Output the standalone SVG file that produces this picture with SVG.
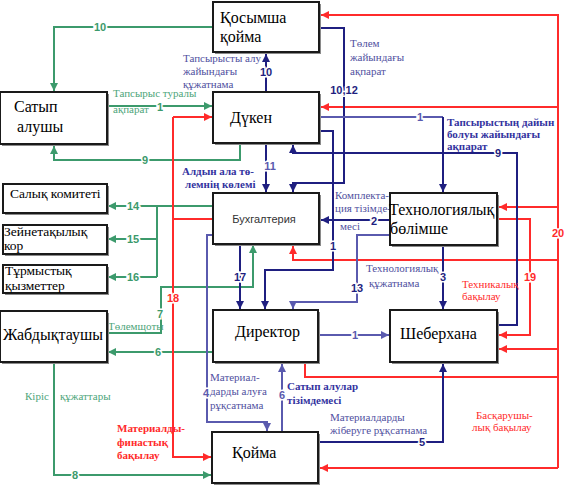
<svg xmlns="http://www.w3.org/2000/svg" width="567" height="489" viewBox="0 0 567 489">
<style>
.box{fill:#fff;stroke:#1a1a1a;stroke-width:2}
.sh{fill:#8a8a8a}
.bt{font-family:"Liberation Serif",serif;font-size:16px;fill:#000}
.st{font-family:"Liberation Serif",serif;font-size:13.5px;fill:#000}
.g{fill:none;stroke:#3c9a6c;stroke-width:2}
.r{fill:none;stroke:#ff2b2b;stroke-width:2}
.n{fill:none;stroke:#1f1f80;stroke-width:2}
.s{fill:none;stroke:#5a5aae;stroke-width:2}
.ga{marker-end:url(#ag)}
.ra{marker-end:url(#ar)}
.na{marker-end:url(#an)}
.sa{marker-end:url(#as)}
.num{font-family:"Liberation Sans",sans-serif;font-size:11px;font-weight:bold;paint-order:stroke;stroke:#fff;stroke-width:3px;text-anchor:middle;dominant-baseline:central}
.ng{fill:#3c9a6c}
.nr{fill:#ff2b2b}
.nn{fill:#1f1f80}
.ns{fill:#5a5aae}
.ann{font-family:"Liberation Serif",serif;font-size:11px}
.as{fill:#5050a0}
.ab{fill:#3333a0;font-weight:bold}
.ag2{fill:#4ea57a}
.ar2{fill:#ff2b2b}
</style>
<defs>
<marker id="ag" viewBox="0 0 8 8" refX="8" refY="4" markerWidth="8" markerHeight="8" orient="auto" markerUnits="userSpaceOnUse"><path d="M0,0L8,4L0,8z" fill="#3c9a6c"/></marker>
<marker id="ar" viewBox="0 0 8 8" refX="8" refY="4" markerWidth="8" markerHeight="8" orient="auto" markerUnits="userSpaceOnUse"><path d="M0,0L8,4L0,8z" fill="#ff2b2b"/></marker>
<marker id="an" viewBox="0 0 8 8" refX="8" refY="4" markerWidth="8" markerHeight="8" orient="auto" markerUnits="userSpaceOnUse"><path d="M0,0L8,4L0,8z" fill="#1f1f80"/></marker>
<marker id="as" viewBox="0 0 8 8" refX="8" refY="4" markerWidth="8" markerHeight="8" orient="auto" markerUnits="userSpaceOnUse"><path d="M0,0L8,4L0,8z" fill="#5a5aae"/></marker>
</defs>
<rect width="567" height="489" fill="#fff"/>

<g id="connectors">
<!-- green -->
<path class="g ga" d="M213,27H54V91"/>
<path class="g ga" d="M107,106H212"/>
<path class="g ga" d="M240,144V160H54V146"/>
<path class="g ga" d="M213,206H108"/>
<path class="g" d="M157,206V277"/>
<path class="g ga" d="M157,239H108"/>
<path class="g ga" d="M157,277H108"/>
<path class="g ga" d="M107,333H161V287H253V245"/>
<path class="g ga" d="M213,352H108"/>
<path class="g ga" d="M54,363V475H211"/>
<!-- red -->
<path class="r ra" d="M558,468V15H321"/>
<path class="r ra" d="M558,107H321"/>
<path class="r ra" d="M558,207H499"/>
<path class="r ra" d="M558,349H499"/>
<path class="r ra" d="M558,468H320"/>
<path class="r ra" d="M558,260H293V246"/>
<path class="r" d="M305,363V377H558"/>
<path class="r ra" d="M498,219H530V335H499"/>
<path class="r ra" d="M173,117H212"/>
<path class="r ra" d="M173,117V457H211"/>
<path class="r" d="M173,219H213"/>
<!-- blue -->
<path class="n na" d="M266,92V54"/>
<path class="n na" d="M320,28H344V183H293V192"/>
<path class="n na" d="M498,325H517V153H293V145"/>
<path class="n na" d="M266,144V192"/>
<path class="s" d="M320,117H443"/>
<path class="n na" d="M443,117V192"/>
<path class="n na" d="M320,131H333V270H265V309"/>
<path class="n na" d="M390,220H321"/>
<path class="s sa" d="M390,235H357V302H293V309"/>
<path class="n na" d="M240,245V309"/>
<path class="n na" d="M443,246V309"/>
<path class="s sa" d="M319,335H389"/>
<path class="s sa" d="M213,235H207V422H267V431"/>
<path class="s sa" d="M282,432V364"/>
<path class="n na" d="M319,442H443V364"/>
</g>

<g id="labels">
<text class="num ng" x="100" y="27">10</text>
<text class="num ng" x="160" y="107">1</text>
<text class="num ng" x="145" y="160">9</text>
<text class="num ng" x="133" y="206" font-size="12">14</text>
<text class="num ng" x="133" y="239" font-size="12">15</text>
<text class="num ng" x="133" y="277" font-size="12">16</text>
<text class="num ng" x="160" y="314">7</text>
<text class="num ng" x="158" y="352">6</text>
<text class="num ng" x="75" y="475">8</text>
<text class="num nr" x="558" y="233">20</text>
<text class="num nr" x="530" y="277">19</text>
<text class="num nr" x="173" y="298">18</text>
<text class="num nn" x="266" y="72">10</text>
<text class="num nn" x="344" y="90">10,12</text>
<text class="num nn" x="498" y="153">9</text>
<text class="num ns" x="270" y="166">11</text>
<text class="num ns" x="420" y="117">1</text>
<text class="num nn" x="333" y="246">1</text>
<text class="num nn" x="374" y="221">2</text>
<text class="num nn" x="357" y="288">13</text>
<text class="num nn" x="240" y="277">17</text>
<text class="num nn" x="443" y="277">3</text>
<text class="num ns" x="355" y="335">1</text>
<text class="num ns" x="206" y="393">4</text>
<text class="num ns" x="282" y="395">6</text>
<text class="num nn" x="422" y="442">5</text>

<text class="ann as" x="183" y="62">Тапсырысты алу</text>
<text class="ann as" x="183" y="75">жайындағы</text>
<text class="ann as" x="183" y="88">құжатнама</text>
<text class="ann as" x="350" y="47">Төлем</text>
<text class="ann as" x="350" y="61">жайындағы</text>
<text class="ann as" x="350" y="75">ақпарат</text>
<text class="ann ag2" x="113" y="97">Тапсырыс туралы</text>
<text class="ann ag2" x="113" y="113">ақпарат</text>
<text class="ann ab" x="182" y="175">Алдын ала тө-</text>
<text class="ann ab" x="185" y="188">лемнің көлемі</text>
<text class="ann ab" x="447" y="126">Тапсырыстың дайын</text>
<text class="ann ab" x="447" y="138">болуы жайындағы</text>
<text class="ann ab" x="447" y="150">ақпарат</text>
<text class="ann as" x="335" y="199">Комплекта-</text>
<text class="ann as" x="335" y="212">ция тізімде-</text>
<text class="ann as" x="340" y="230">месі</text>
<text class="ann as" x="366" y="272">Технологиялық</text>
<text class="ann as" x="369" y="287">құжатнама</text>
<text class="ann ar2" x="462" y="288">Техникалық</text>
<text class="ann ar2" x="462" y="300">бақылау</text>
<text class="ann ag2" x="108" y="330">Төлемщоты</text>
<text class="ann ag2" x="25" y="400">Кіріс</text>
<text class="ann ag2" x="60" y="400">құжаттары</text>
<text class="ann as" x="210" y="381">Материал-</text>
<text class="ann as" x="210" y="395">дарды алуға</text>
<text class="ann as" x="210" y="409">рұқсатнама</text>
<text class="ann ab" x="287" y="390">Сатып алулар</text>
<text class="ann ab" x="287" y="404">тізімдемесі</text>
<text class="ann as" x="330" y="421">Материалдарды</text>
<text class="ann as" x="330" y="434">жіберуге рұқсатнама</text>
<text class="ann ar2" x="476" y="419">Басқарушы-</text>
<text class="ann ar2" x="472" y="431">лық бақылау</text>
<text class="ann ar2" x="117" y="432" font-weight="bold">Материалды-</text>
<text class="ann ar2" x="117" y="446" font-weight="bold">финастық</text>
<text class="ann ar2" x="117" y="459" font-weight="bold">бақылау</text>
</g>

<g id="kosymsha">
<rect class="sh" x="215" y="4" width="106" height="50"/>
<rect class="box" x="213" y="2" width="106" height="50"/>
<text class="bt" x="220" y="23">Қосымша</text>
<text class="bt" x="220" y="42">қойма</text>
</g>
<g id="satyp">
<rect class="sh" x="2" y="94" width="107" height="52"/>
<rect class="box" x="0" y="92" width="107" height="52"/>
<text class="bt" x="14" y="112">Сатып</text>
<text class="bt" x="17" y="132">алушы</text>
</g>
<g id="duken">
<rect class="sh" x="215" y="94" width="106" height="51"/>
<rect class="box" x="213" y="92" width="106" height="51"/>
<text class="bt" x="230" y="123">Дүкен</text>
</g>
<g id="salyk">
<rect class="sh" x="5" y="186" width="104" height="29"/>
<rect class="box" x="3" y="184" width="104" height="29"/>
<text class="st" x="10" y="198">Салық комитеті</text>
</g>
<g id="zeinet">
<rect class="sh" x="5" y="227" width="104" height="29"/>
<rect class="box" x="3" y="225" width="104" height="29"/>
<text class="st" x="4" y="236">Зейнетақылық</text>
<text class="st" x="4" y="250">кор</text>
</g>
<g id="turmys">
<rect class="sh" x="5" y="267" width="104" height="28"/>
<rect class="box" x="3" y="265" width="104" height="28"/>
<text class="st" x="5" y="275">Тұрмыстық</text>
<text class="st" x="5" y="290">қызметтер</text>
</g>
<g id="zhabdyk">
<rect class="sh" x="2" y="313" width="107" height="51"/>
<rect class="box" x="0" y="311" width="107" height="51"/>
<text class="bt" x="3" y="340">Жабдықтаушы</text>
</g>
<g id="bukh">
<rect class="sh" x="215" y="195" width="106" height="51"/>
<rect class="box" x="213" y="193" width="106" height="51"/>
<text x="264" y="223" font-family="Liberation Sans, sans-serif" font-size="11" fill="#333" text-anchor="middle">Бухгалтерия</text>
</g>
<g id="tech">
<rect class="sh" x="392" y="195" width="107" height="52"/>
<rect class="box" x="390" y="193" width="107" height="52"/>
<text class="bt" x="389" y="215" font-size="17">Технологиялық</text>
<text class="bt" x="390" y="234" font-size="17">бөлімше</text>
</g>
<g id="director">
<rect class="sh" x="215" y="312" width="105" height="52"/>
<rect class="box" x="213" y="310" width="105" height="52"/>
<text class="bt" x="235" y="337">Директор</text>
</g>
<g id="sheber">
<rect class="sh" x="392" y="312" width="107" height="52"/>
<rect class="box" x="390" y="310" width="107" height="52"/>
<text class="bt" x="400" y="339">Шеберхана</text>
</g>
<g id="koima">
<rect class="sh" x="214" y="434" width="106" height="51"/>
<rect class="box" x="212" y="432" width="106" height="51"/>
<text class="bt" x="232" y="458">Қойма</text>
</g>
</svg>
